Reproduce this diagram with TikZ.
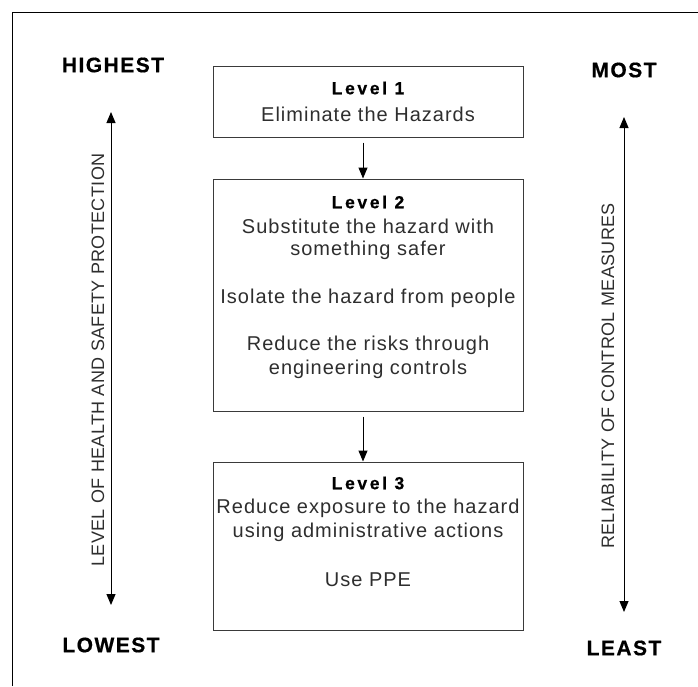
\documentclass[tikz,border=0pt]{standalone}
\usepackage{fontspec}
\setmainfont{Liberation Sans}
\newfontfamily\bodyf[LetterSpace=5]{Liberation Sans}
\newfontfamily\sidef[LetterSpace=2]{Liberation Sans}
\newfontfamily\levf[LetterSpace=15,FakeBold=0.6]{Liberation Sans Bold}
\newfontfamily\endf[LetterSpace=7,FakeBold=0.6]{Liberation Sans Bold}
\usetikzlibrary{arrows.meta}
\definecolor{boxgray}{HTML}{3A3A3A}
\definecolor{txtgray}{HTML}{2E2E2E}
\tikzset{
  lvlbox/.style={draw=boxgray, line width=1pt, rectangle, inner sep=0pt},
  bodytxt/.style={inner sep=0pt, text=txtgray, font=\bodyf\fontsize{20}{24}\selectfont},
  leveltxt/.style={inner sep=0pt, text=black, font=\levf\fontsize{17.5}{20}\selectfont},
  endtxt/.style={inner sep=0pt, text=black, font=\endf\fontsize{21}{24}\selectfont},
  sidetxt/.style={inner sep=0pt, text=txtgray, rotate=90, font=\sidef\fontsize{18}{22}\selectfont},
  flow/.style={draw=black, line width=1pt, -{Triangle[width=9pt,length=11pt]}, shorten <=5pt},
  sidescale/.style={draw=black, line width=1pt, {Triangle[width=9pt,length=11pt]}-{Triangle[width=9pt,length=11pt]}}
}
\begin{document}
\begin{tikzpicture}[x=1pt,y=-1pt]
\useasboundingbox (0,0) rectangle (698,686);
% frame (top and left only visible)
\draw[line width=1pt] (12,686) -- (12,12) -- (698,12);

% boxes
\node[lvlbox, minimum width=310pt, minimum height=71pt] (b1) at (368,101.5) {};
\node[lvlbox, minimum width=310pt, minimum height=232pt] (b2) at (368,295) {};
\node[lvlbox, minimum width=310pt, minimum height=168pt] (b3) at (368,546) {};

% box 1 text
\node[leveltxt] (l1) at (368,88) {Level 1};
\node[bodytxt] (t11) at (368,114) {Eliminate the Hazards};

% box 2 text
\node[leveltxt] (l2) at (368,202) {Level 2};
\node[bodytxt] (t21) at (368,226) {Substitute the hazard with};
\node[bodytxt] (t22) at (368,250) {something safer};
\node[bodytxt] (t23) at (368,298) {Isolate the hazard from people};
\node[bodytxt] (t24) at (368,345) {Reduce the risks through};
\node[bodytxt] (t25) at (368,369) {engineering controls};

% box 3 text
\node[leveltxt] (l3) at (368,483) {Level 3};
\node[bodytxt] (t31) at (368,508) {Reduce exposure to the hazard};
\node[bodytxt] (t32) at (368,532) {using administrative actions};
\node[bodytxt] (t33) at (368,580) {Use PPE};

% flow arrows
\draw[flow] (b1.south -| 363,0) -- (b2.north -| 363,0);
\draw[flow] (b2.south -| 363,0) -- (b3.north -| 363,0);

% end labels
\node[endtxt] (hi) at (113,65) {HIGHEST};
\node[endtxt] (lo) at (111,645) {LOWEST};
\node[endtxt] (mo) at (624,70) {MOST};
\node[endtxt] (le) at (624,648) {LEAST};

% side scales
\coordinate (lt) at (111,112);
\coordinate (lb) at (111,605);
\coordinate (rt) at (624,117);
\coordinate (rb) at (624,612);
\draw[sidescale] (lb) -- (lt);
\draw[sidescale] (rb) -- (rt);

\node[sidetxt] (ls) at (98,360) {LEVEL OF HEALTH AND SAFETY PROTECTION};
\node[sidetxt] (rs) at (608,376) {RELIABILITY OF CONTROL MEASURES};
\end{tikzpicture}
\end{document}
